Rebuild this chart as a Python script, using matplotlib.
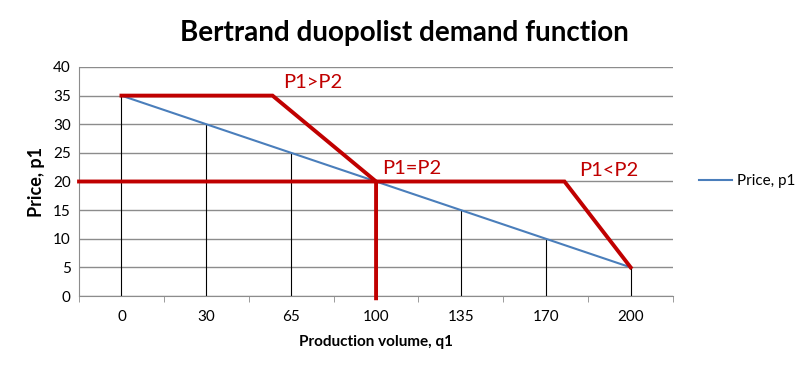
import matplotlib
matplotlib.use("Agg")
import matplotlib.pyplot as plt

# data
volumes = ["0", "30", "65", "100", "135", "170", "200"]
prices = [35, 30, 25, 20, 15, 10, 5]

# red demand curve shapes (category position, price)
upper_x = [0, 1.78, 3, 3]
upper_y = [35, 35, 20, -0.4]
lower_x = [-0.5, 5.22, 6]
lower_y = [20, 20, 5]

labels = ["P1>P2", "P1=P2", "P1<P2"]
label_pos = [(1.9, 37.3), (3.07, 22.2), (5.39, 21.9)]

plt.rcParams['font.family'] = ['Lato', 'DejaVu Sans']

fig = plt.figure(figsize=(8.09, 3.72), dpi=100)
ax = fig.add_axes([0.0977, 0.2043, 0.7343, 0.6156])

x = list(range(len(volumes)))
ax.set_xlim(-0.5, len(volumes) - 0.5)
ax.set_ylim(0, 40)

ax.set_yticks(range(0, 41, 5))
ax.grid(axis='y', color='#8c8c8c', linewidth=1)
ax.set_axisbelow(True)

# drop lines
ax.vlines(x, 0, prices, color='black', linewidth=0.8, zorder=2)

ax.plot(x, prices, color='#4a7ebb', linewidth=1.5, label='Price, p1', zorder=3)

red = '#c00000'
ax.plot(upper_x, upper_y, color=red, linewidth=2.8, clip_on=False, zorder=4,
        solid_joinstyle='miter')
ax.plot(lower_x, lower_y, color=red, linewidth=2.8, clip_on=False, zorder=4,
        solid_joinstyle='miter')
for t, (px, py) in zip(labels, label_pos):
    ax.text(px, py, t, color=red, fontsize=14.5, va='center', ha='left')

ax.set_xticks(x)
ax.set_xticklabels(volumes)
ax.set_xticks([i - 0.5 for i in range(len(volumes) + 1)], minor=True)
ax.tick_params(axis='x', which='major', length=0, pad=10, labelsize=11)
ax.tick_params(axis='x', which='minor', length=4, color='#8c8c8c')
ax.tick_params(axis='y', length=0, pad=6, labelsize=11)

for s in ['top', 'right']:
    ax.spines[s].set_visible(False)
ax.spines['left'].set_color('#8c8c8c')
ax.spines['bottom'].set_color('#8c8c8c')

ax.set_xlabel('Production volume, q1', fontweight='bold', fontsize=11, labelpad=8)
ax.set_ylabel('Price, p1', fontweight='bold', fontsize=13, labelpad=6)

fig.suptitle('Bertrand duopolist demand function', fontweight='bold',
             fontsize=20, x=0.5, y=0.945)

ax.legend(loc='center left', bbox_to_anchor=(1.02, 0.5), frameon=False,
          fontsize=11, handlelength=2.2, handletextpad=0.3)

fig.savefig('out.png', dpi=100)
